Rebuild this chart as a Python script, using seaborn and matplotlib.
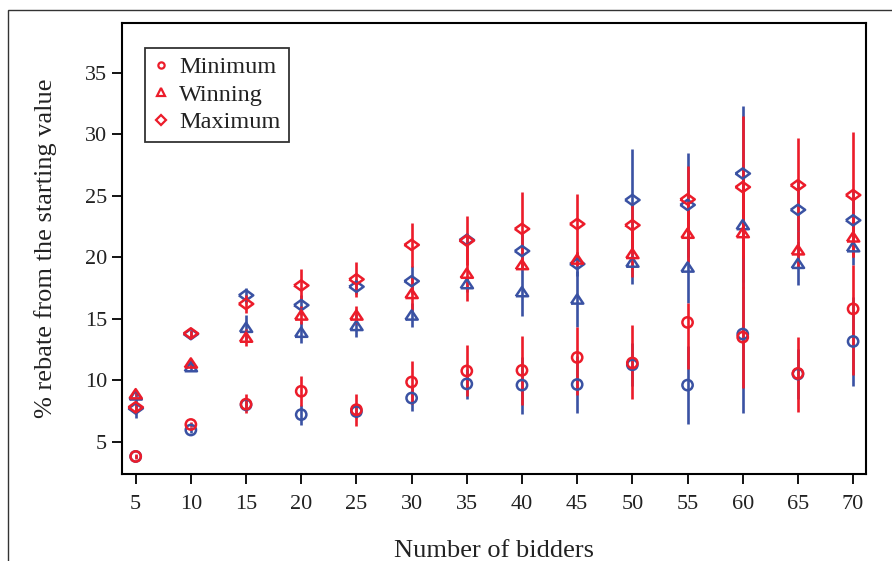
import pandas as pd
import matplotlib
matplotlib.use('Agg')
import matplotlib.pyplot as plt
import seaborn as sns
from matplotlib.lines import Line2D
from matplotlib.patches import Rectangle

bidders = [5, 10, 15, 20, 25, 30, 35, 40, 45, 50, 55, 60, 65, 70]

# red series: mean, lower and upper end of the bar
red_min = [3.8, 6.4, 8.05, 9.1, 7.6, 9.85, 10.75, 10.8, 11.85, 11.4, 14.7, 13.5, 10.55, 15.8]
red_min_lo = [3.6, 6.2, 7.3, 7.9, 6.3, 8.1, 8.7, 8.0, 8.8, 8.5, 10.9, 9.35, 7.45, 10.4]
red_min_hi = [4.0, 6.6, 8.9, 10.35, 8.9, 11.6, 12.9, 13.6, 14.3, 14.45, 16.3, 17.6, 13.55, 19.4]

red_win = [8.9, 11.4, 13.5, 15.3, 15.3, 17.05, 18.7, 19.4, 19.85, 20.3, 21.95, 22.0, 20.6, 21.65]
red_win_lo = [8.7, 11.1, 12.8, 14.6, 14.6, 15.7, 16.45, 19.1, 19.3, 18.4, 19.6, 17.5, 19.1, 20.0]
red_win_hi = [9.1, 11.7, 14.2, 16.0, 16.0, 18.4, 20.9, 19.7, 20.4, 22.1, 24.3, 26.5, 22.1, 23.3]

red_max = [7.8, 13.8, 16.2, 17.7, 18.2, 21.0, 21.35, 22.3, 22.7, 22.6, 24.7, 25.7, 25.85, 25.05]
red_max_lo = [7.5, 13.5, 15.5, 16.4, 16.8, 19.2, 19.35, 19.3, 20.3, 20.8, 22.0, 19.95, 22.1, 20.0]
red_max_hi = [8.1, 14.1, 16.9, 19.05, 19.6, 22.8, 23.35, 25.3, 25.1, 24.4, 27.4, 31.45, 29.7, 30.2]

# blue series
blue_min = [3.8, 5.95, 8.0, 7.2, 7.45, 8.55, 9.7, 9.6, 9.65, 11.25, 9.6, 13.75, 10.5, 13.15]
blue_min_lo = [3.7, 5.7, 7.5, 6.35, 6.9, 7.5, 8.5, 7.25, 7.3, 9.5, 6.45, 7.3, 8.5, 9.5]
blue_min_hi = [3.9, 6.2, 8.5, 8.0, 8.0, 9.6, 10.9, 11.9, 12.0, 13.0, 12.75, 20.2, 12.5, 16.8]

blue_win = [8.8, 11.1, 14.3, 13.9, 14.45, 15.3, 17.85, 17.2, 16.6, 19.6, 19.2, 22.65, 19.5, 20.85]
blue_win_lo = [8.6, 10.8, 13.3, 13.0, 13.55, 14.3, 17.2, 15.2, 14.3, 17.8, 16.3, 18.0, 17.7, 19.4]
blue_win_hi = [9.0, 11.4, 15.3, 14.8, 15.35, 16.3, 18.5, 19.2, 18.9, 21.4, 22.1, 27.3, 21.3, 22.3]

blue_max = [7.7, 13.75, 16.9, 16.1, 17.6, 18.05, 21.4, 20.5, 19.45, 24.65, 24.25, 26.8, 23.85, 23.0]
blue_max_lo = [6.9, 13.5, 16.3, 15.3, 17.0, 17.0, 20.8, 19.1, 18.5, 20.5, 20.0, 21.3, 21.4, 20.5]
blue_max_hi = [8.5, 14.0, 17.5, 16.9, 18.2, 19.3, 22.0, 21.9, 20.4, 28.8, 28.5, 32.3, 26.3, 25.5]

stats = ['Minimum', 'Winning', 'Maximum']
RED = '#ec1c2a'
BLUE = '#3a52a3'


def build_frame():
    series = {
        ('blue', 'Minimum'): (blue_min, blue_min_lo, blue_min_hi),
        ('blue', 'Winning'): (blue_win, blue_win_lo, blue_win_hi),
        ('blue', 'Maximum'): (blue_max, blue_max_lo, blue_max_hi),
        ('red', 'Minimum'): (red_min, red_min_lo, red_min_hi),
        ('red', 'Winning'): (red_win, red_win_lo, red_win_hi),
        ('red', 'Maximum'): (red_max, red_max_lo, red_max_hi),
    }
    frames = []
    for (group, stat), (val, lo, hi) in series.items():
        frames.append(pd.DataFrame({'bidders': bidders, 'value': val, 'lo': lo, 'hi': hi,
                                    'group': group, 'stat': stat}))
    return pd.concat(frames, ignore_index=True)


def main():
    df = build_frame()

    sns.set_theme(style='white')
    plt.rcParams['font.family'] = ['Liberation Serif', 'DejaVu Serif']

    fig, ax = plt.subplots(figsize=(8.92, 5.61), dpi=100)
    fig.subplots_adjust(left=0.137, right=0.971, top=0.959, bottom=0.155)

    # closed outlines (first vertex repeated) so hollow markers get all sides
    tri = [(-1, -0.75), (1, -0.75), (0, 0.75), (-1, -0.75)]
    dia = [(-1, 0), (0, 0.72), (1, 0), (0, -0.72), (-1, 0)]
    markers = {'Minimum': 'o', 'Winning': tri, 'Maximum': dia}
    sizes = {'Minimum': 55, 'Winning': 78, 'Maximum': 108}

    for group, color in [('blue', BLUE), ('red', RED)]:
        sub = df[df['group'] == group]
        ax.vlines(sub['bidders'], sub['lo'], sub['hi'], color=color, lw=1.9, zorder=2)
        sns.scatterplot(data=sub, x='bidders', y='value', style='stat', size='stat',
                        markers=markers, sizes=sizes, style_order=stats, size_order=stats,
                        color=color, facecolor='none', edgecolor=color, linewidth=1.8,
                        legend=False, ax=ax, zorder=3)

    ax.set_xlim(3.78, 71.18)
    ax.set_ylim(2.37, 39.04)
    ax.set_xticks(bidders)
    ax.set_yticks([5, 10, 15, 20, 25, 30, 35])
    ax.tick_params(axis='both', direction='out', length=7, width=1.3, color='black',
                   labelsize=16, labelcolor='#222222', bottom=True, left=True)
    ax.tick_params(axis='x', pad=8)
    ax.tick_params(axis='y', pad=4)
    for sp in ax.spines.values():
        sp.set_color('black')
        sp.set_linewidth(1.5)

    ax.set_xlabel('Number of bidders', fontsize=19, color='#222222', labelpad=19)
    ax.set_ylabel('% rebate from the starting value', fontsize=19, color='#222222', labelpad=20)

    handles = [
        Line2D([], [], ls='none', marker='o', ms=4.5, mfc='none', mec=RED, mew=1.6),
        Line2D([], [], ls='none', marker='^', ms=5.5, mfc='none', mec=RED, mew=1.6),
        Line2D([], [], ls='none', marker='D', ms=5.0, mfc='none', mec=RED, mew=1.6),
    ]
    leg = ax.legend(handles, stats, loc='upper left', bbox_to_anchor=(0.031, 0.945),
                    fontsize=17.5, frameon=True, fancybox=False, handlelength=0.6,
                    handletextpad=0.45, labelspacing=0.22, borderpad=0.35, borderaxespad=0)
    leg.get_frame().set_edgecolor('black')
    leg.get_frame().set_linewidth(1.3)
    for t in leg.get_texts():
        t.set_color('#222222')

    # thin outer frame around the figure
    fig.patches.append(Rectangle((8 / 892, -0.1), 1.2, 1.1 - 10 / 561,
                                 transform=fig.transFigure, fill=False,
                                 edgecolor='#333333', lw=1.0))

    fig.savefig('out.png', dpi=100)


if __name__ == "__main__":
    main()
